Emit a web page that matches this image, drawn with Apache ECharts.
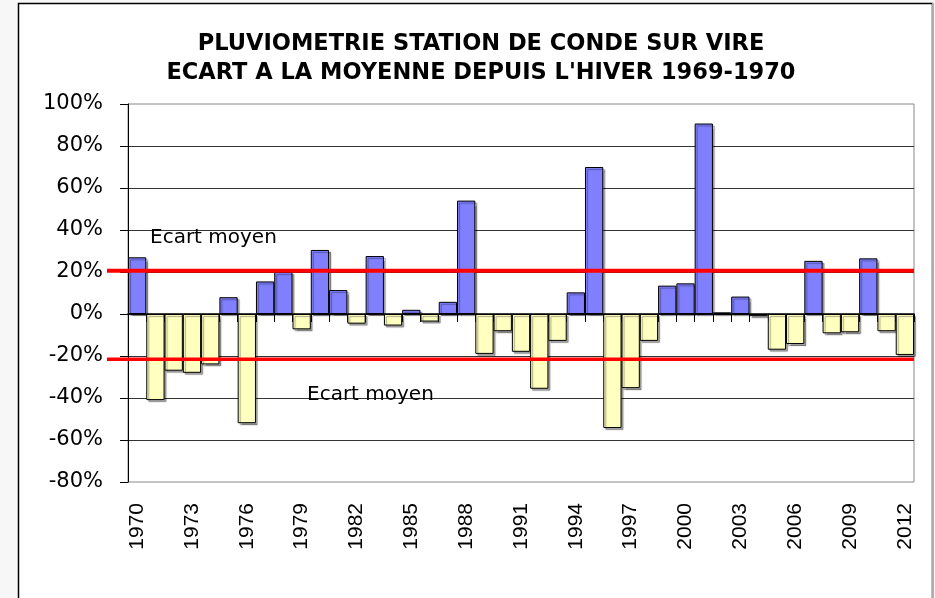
<!DOCTYPE html>
<html>
<head>
<meta charset="utf-8">
<script src="https://cdn.jsdelivr.net/npm/echarts@6/dist/echarts.min.js"></script>
<style>
  html, body { margin: 0; padding: 0; background: #f7f7f7; }
  #chart { width: 935px; height: 598px; }
</style>
</head>
<body>
<div id="chart"></div>
<script>
// annees (hiver n-1 / n)
const years = [];
for (let y = 1970; y <= 2012; y++) years.push(String(y));

// ecart a la moyenne, en %
const ecart = [
  27, -41, -27, -28, -24, 8, -52, 15.5, 20, -7.3,
  30.5, 11.4, -4.6, 27.6, -5.5, 2, -3.6, 5.8, 54, -19,
  -8.2, -18, -35.6, -12.8, 10.3, 70, -54.3, -35.3, -12.8, 13.5,
  14.6, 90.7, 0.8, 8.3, -1, -17, -14.3, 25.3, -9.2, -8.7,
  26.5, -8.2, -19.5
];

// ecart moyen (lignes rouges)
const ecartMoyenHaut = 20.6;
const ecartMoyenBas = -21.5;

const yTicks = { min: -80, max: 100, interval: 20 };

const colPos = '#8080ff';
const colNeg = '#ffffc0';
const font = '"Liberation Sans", Arial, sans-serif';
const fontWide = '"DejaVu Sans", Verdana, sans-serif';

const gridMain = { left: 128, right: 21, top: 104, bottom: 116 };

const chart = echarts.init(document.getElementById('chart'), null, { renderer: 'canvas' });

chart.setOption({
  animation: false,
  title: {
    text: 'PLUVIOMETRIE STATION DE CONDE SUR VIRE\nECART A LA MOYENNE DEPUIS L\'HIVER 1969-1970',
    left: 476,
    textAlign: 'center',
    top: 24,
    textStyle: { fontFamily: fontWide, fontWeight: 'bold', fontSize: 22.5, lineHeight: 29.5, color: '#000' }
  },
  graphic: [
    {
      type: 'rect', z: -10, silent: true,
      shape: { x: 18.5, y: 3.5, width: 914, height: 640 },
      style: { fill: '#fff', stroke: '#000', lineWidth: 1.5 }
    },
    {
      type: 'rect', z: -9, silent: true,
      shape: { x: 932, y: 3, width: 1.5, height: 600 },
      style: { fill: '#aaa' }
    },
    {
      type: 'text', z: 10,
      style: { text: 'Ecart moyen', x: 150, y: 238, font: '20px ' + fontWide, fill: '#000', verticalAlign: 'middle' }
    },
    {
      type: 'text', z: 10,
      style: { text: 'Ecart moyen', x: 307, y: 395, font: '20px ' + fontWide, fill: '#000', verticalAlign: 'middle' }
    }
  ],
  grid: [
    Object.assign({ show: true, borderColor: '#888', borderWidth: 1, backgroundColor: 'transparent' }, gridMain),
    { left: 107, right: 21, top: gridMain.top, bottom: gridMain.bottom }
  ],
  xAxis: [
    {
      type: 'category', gridIndex: 0, data: years, position: 'bottom',
      axisLine: { show: false, onZero: false },
      axisTick: { show: false },
      axisLabel: { interval: 2, rotate: 90, margin: 21, fontFamily: font, fontSize: 21, color: '#000' }
    },
    {
      type: 'category', gridIndex: 0, data: years, position: 'bottom',
      axisLine: { show: true, onZero: true, lineStyle: { color: '#000', width: 1.5 } },
      axisTick: { show: true, interval: 0, length: 8, lineStyle: { color: '#000' } },
      axisLabel: { show: false }
    },
    { type: 'value', gridIndex: 1, min: 0, max: 1, show: false }
  ],
  yAxis: [
    {
      type: 'value', gridIndex: 0,
      min: yTicks.min, max: yTicks.max, interval: yTicks.interval,
      axisLine: { show: true, lineStyle: { color: '#000', width: 1 } },
      axisTick: { show: true, length: 8, lineStyle: { color: '#000' } },
      axisLabel: { formatter: '{value}%', margin: 25, fontFamily: fontWide, fontSize: 21, color: '#000' },
      splitLine: { show: true, showMinLine: false, showMaxLine: false, lineStyle: { color: '#333', width: 1 } }
    },
    { type: 'value', gridIndex: 1, min: yTicks.min, max: yTicks.max, show: false }
  ],
  series: [
    {
      type: 'bar', xAxisIndex: 0, yAxisIndex: 0,
      data: ecart,
      barWidth: '100%',
      barCategoryGap: 0,
      itemStyle: {
        color: p => (p.value >= 0 ? colPos : colNeg),
        borderColor: '#000',
        borderWidth: 1,
        shadowColor: 'rgba(0,0,0,0.35)',
        shadowOffsetX: 2,
        shadowOffsetY: 2,
        shadowBlur: 1
      },
      z: 2
    },
    {
      type: 'line', xAxisIndex: 2, yAxisIndex: 1,
      data: [[0, ecartMoyenHaut], [1, ecartMoyenHaut]],
      symbol: 'none', lineStyle: { color: '#ff0000', width: 4 }, z: 5
    },
    {
      type: 'line', xAxisIndex: 2, yAxisIndex: 1,
      data: [[0, ecartMoyenBas], [1, ecartMoyenBas]],
      symbol: 'none', lineStyle: { color: '#ff0000', width: 3.5 }, z: 5
    }
  ]
});
</script>
</body>
</html>
